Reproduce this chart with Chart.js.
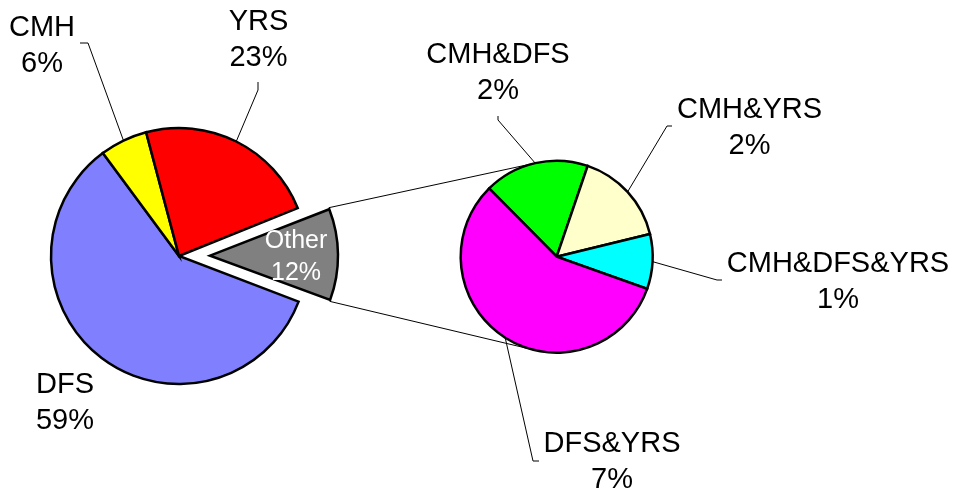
<!DOCTYPE html>
<html>
<head>
<meta charset="utf-8">
<script src="https://cdn.jsdelivr.net/npm/chart.js@4.4.1/dist/chart.umd.min.js"></script>
<style>
  html, body { margin: 0; padding: 0; background: #fff; overflow: hidden; }
  #wrap { position: relative; width: 960px; height: 494px; }
  #wrap canvas { position: absolute; left: 0; top: 0; }
</style>
</head>
<body>
<div id="wrap">
  <canvas id="mainPie" width="960" height="494"></canvas>
  <canvas id="subPie" width="960" height="494"></canvas>
</div>
<script>
// main pie, clockwise starting with the exploded slice
const mainLabels = ['Other', 'DFS', 'CMH', 'YRS'];
const mainValues = [11.9, 59, 6, 23];
const mainColors = ['#808080', '#8080ff', '#ffff00', '#ff0000'];

// what "Other" is made of (second pie)
const subLabels = ['CMH&DFS', 'CMH&YRS', 'CMH&DFS&YRS', 'DFS&YRS'];
const subValues = [2.1, 1.9, 1.1, 6.8];
const subColors = ['#00ff00', '#ffffcc', '#00ffff', '#ff00ff'];

const FONT = '"Liberation Sans", Arial, sans-serif';
const MAIN_R = 128;
const SUB_R = 96;
const grandTotal = mainValues.reduce((a, b) => a + b, 0);

// where the data labels go (text anchor + leader elbow)
const mainLayout = {
  CMH: { x: 42, y: 36, leader: [[88, 43], [80, 43]] },
  YRS: { x: 258.5, y: 30, leader: [[258, 90], [258, 82]] },
  DFS: { x: 65, y: 393 },
  Other: { x: 296, y: 248, size: 25, gap: 32, color: '#ffffff' }
};
const subLayout = {
  'CMH&DFS': { x: 498, y: 63, leader: [[498, 120], [498, 116]] },
  'CMH&YRS': { x: 749.5, y: 118, leader: [[667, 126], [672, 126]] },
  'CMH&DFS&YRS': { x: 838, y: 271.5, leader: [[717, 280], [722, 280]] },
  'DFS&YRS': { x: 612, y: 452, leader: [[533, 461], [539, 461]] }
};

// chart.js grows an offset arc a bit, undo that so the exploded slice keeps the pie radius
const keepRadius = {
  id: 'keepRadius',
  afterDatasetUpdate(chart) {
    chart.getDatasetMeta(0).data.forEach(arc => {
      const off = (arc.options.offset || 0) / 4;
      const fix = 1 - Math.sin(Math.min(Math.PI, arc.circumference));
      arc.outerRadius -= off * fix;
    });
  }
};

const pieLabels = {
  id: 'pieLabels',
  afterDatasetsDraw(chart, args, opts) {
    const ctx = chart.ctx;
    const meta = chart.getDatasetMeta(0);
    const values = chart.data.datasets[0].data;
    ctx.save();
    meta.data.forEach((arc, i) => {
      const name = chart.data.labels[i];
      const lay = opts.layout[name];
      if (!lay) return;
      const mid = (arc.startAngle + arc.endAngle) / 2;
      if (lay.leader) {
        ctx.beginPath();
        ctx.strokeStyle = '#000';
        ctx.lineWidth = 1;
        ctx.moveTo(arc.x + opts.radius * Math.cos(mid), arc.y + opts.radius * Math.sin(mid));
        lay.leader.forEach(p => ctx.lineTo(p[0], p[1]));
        ctx.stroke();
      }
      const pct = Math.round(values[i] / grandTotal * 100) + '%';
      ctx.font = (lay.size || 29) + 'px ' + FONT;
      ctx.fillStyle = lay.color || '#000';
      ctx.textAlign = 'center';
      ctx.textBaseline = 'alphabetic';
      ctx.fillText(name, lay.x, lay.y);
      ctx.fillText(pct, lay.x, lay.y + (lay.gap || 36));
    });
    ctx.restore();
  }
};

const mainChart = new Chart(document.getElementById('mainPie'), {
  type: 'pie',
  data: {
    labels: mainLabels,
    datasets: [{
      data: mainValues,
      backgroundColor: mainColors,
      borderColor: '#000',
      borderWidth: 2.5,
      borderJoinStyle: 'miter',
      offset: [124, 0, 0, 0]
    }]
  },
  options: {
    responsive: false,
    animation: false,
    devicePixelRatio: 1,
    events: [],
    radius: MAIN_R,
    rotation: 68,
    layout: { padding: { left: 0, right: 602, top: 18, bottom: 0 } },
    plugins: {
      legend: { display: false },
      tooltip: { enabled: false },
      pieLabels: { layout: mainLayout, radius: MAIN_R }
    }
  },
  plugins: [keepRadius, pieLabels]
});

// lines from the exploded slice to the second pie (tangent to it)
const connectors = {
  id: 'connectors',
  beforeDatasetsDraw(chart) {
    const other = mainChart.getDatasetMeta(0).data[0];
    const sub = chart.getDatasetMeta(0).data[0];
    const t = (other.options.offset || 0) / 4;
    const mid = (other.startAngle + other.endAngle) / 2;
    const cx = other.x + t * Math.cos(mid);
    const cy = other.y + t * Math.sin(mid);
    const ctx = chart.ctx;
    ctx.save();
    ctx.strokeStyle = '#000';
    ctx.lineWidth = 1;
    [[other.startAngle, 1], [other.endAngle, -1]].forEach(([ang, side]) => {
      const px = cx + MAIN_R * Math.cos(ang);
      const py = cy + MAIN_R * Math.sin(ang);
      const dx = px - sub.x, dy = py - sub.y;
      const d = Math.sqrt(dx * dx + dy * dy);
      const a = Math.atan2(dy, dx) + side * Math.acos(SUB_R / d);
      ctx.beginPath();
      ctx.moveTo(px, py);
      ctx.lineTo(sub.x + SUB_R * Math.cos(a), sub.y + SUB_R * Math.sin(a));
      ctx.stroke();
    });
    ctx.restore();
  }
};

const subChart = new Chart(document.getElementById('subPie'), {
  type: 'pie',
  data: {
    labels: subLabels,
    datasets: [{
      data: subValues,
      backgroundColor: subColors,
      borderColor: '#000',
      borderWidth: 2.5,
      borderJoinStyle: 'miter'
    }]
  },
  options: {
    responsive: false,
    animation: false,
    devicePixelRatio: 1,
    events: [],
    radius: SUB_R,
    rotation: -44.7,
    layout: { padding: { left: 153.4, right: 0, top: 19.4, bottom: 0 } },
    plugins: {
      legend: { display: false },
      tooltip: { enabled: false },
      pieLabels: { layout: subLayout, radius: SUB_R }
    }
  },
  plugins: [connectors, pieLabels]
});
</script>
</body>
</html>
